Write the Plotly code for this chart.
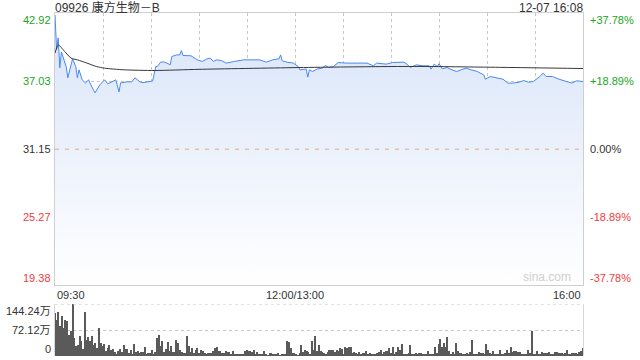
import plotly.graph_objects as go

# ---------------- data ----------------
title_text = "09926 康方生物－B"
stamp_text = "12-07 16:08"
prev_close = 31.15
price_ticks = [19.38, 25.27, 31.15, 37.03, 42.92]
pct_labels = ["-37.78%", "-18.89%", "0.00%", "+18.89%", "+37.78%"]
time_labels = ["09:30", "12:00/13:00", "16:00"]
time_label_pos = [0, 150, 330]          # minute index (HK session, lunch break removed)
grid_minutes = [30, 60, 90, 120, 150, 180, 210, 240, 270, 300]
vol_ticks = [72.12, 144.24]
vol_labels = ["0", "72.12万", "144.24万"]

price_minutes = [0, 1, 2, 3, 4, 7, 8, 10, 11, 13, 14, 15, 17, 19, 21, 23, 25, 28, 31, 33,
                 36, 38, 40, 41, 45, 48, 50, 53, 55, 58, 61, 63, 64, 66, 68, 70, 72, 73, 76, 78,
                 79, 80, 85, 89, 92, 95, 97, 99, 101, 104, 107, 112, 116, 118, 122, 128, 132, 136, 140, 141,
                 142, 145, 149, 152, 153, 157, 158, 159, 161, 164, 167, 169, 171, 174, 177, 182, 189, 195, 199, 201,
                 207, 211, 218, 220, 222, 226, 230, 234, 235, 237, 239, 240, 242, 245, 247, 251, 255, 257, 260, 264,
                 268, 269, 272, 276, 280, 283, 286, 290, 293, 296, 299, 303, 305, 307, 311, 315, 320, 323, 326, 329,
                 330]
price_values = [42.76, 39.74, 40.77, 38.18, 39.56, 38.27, 37.32, 38.27, 38.96, 38.27, 37.32, 38.01, 37.14, 36.88, 37.14, 36.54, 36.02, 36.71, 37.14, 36.80,
                36.97, 37.14, 36.10, 36.88, 36.97, 36.97, 37.32, 36.97, 36.90, 36.95, 37.04, 38.29, 38.30, 38.67, 38.70, 38.59, 38.44, 39.16, 39.30, 39.30,
                39.67, 39.25, 39.22, 38.87, 38.73, 38.96, 39.02, 38.73, 38.87, 38.81, 38.59, 38.73, 38.81, 38.87, 38.87, 38.87, 38.67, 38.87, 38.96, 39.30,
                38.79, 38.67, 38.59, 38.29, 38.01, 38.07, 37.38, 38.01, 37.86, 38.09, 38.15, 38.38, 38.21, 38.29, 38.64, 38.59, 38.59, 38.59, 38.36, 38.59,
                38.50, 38.64, 38.67, 38.50, 38.21, 38.44, 38.35, 38.35, 38.07, 38.50, 38.29, 38.53, 38.09, 38.21, 38.07, 37.86, 38.07, 38.15, 38.01, 37.86,
                37.57, 37.20, 37.43, 37.29, 37.20, 36.86, 36.86, 36.94, 37.08, 36.94, 37.00, 37.43, 37.72, 37.43, 37.43, 37.20, 37.00, 36.86, 37.06, 37.00,
                37.00]

avg_minutes = [0, 2, 6, 10, 14, 20, 26, 31, 43, 62, 90, 150, 205, 230, 280, 330]
avg_values = [39.45, 40.17, 39.60, 39.02, 38.87, 38.59, 38.29, 38.15, 38.01, 37.95, 38.05, 38.20, 38.29, 38.30, 38.22, 38.12]

volumes = [118.8, 100.7, 120.7, 82.7, 110.2, 77.0, 100.7, 97.9, 58.0, 69.4, 144.24, 49.4, 28.5, 31.4, 56.0, 42.8, 20.0, 120.7, 44.7, 53.2,
           42.8, 56.0, 30.4, 36.1, 21.9, 77.0, 36.1, 28.5, 33.3, 15.2, 21.9, 30.4, 18.0, 20.0, 10.5, 6.7, 13.3, 20.0, 10.5, 30.4,
           20.0, 20.0, 8.6, 18.0, 6.7, 33.3, 10.5, 15.2, 8.6, 12.4, 10.5, 24.7, 6.7, 8.6, 8.6, 17.1, 6.7, 10.5, 51.3, 58.0,
           28.5, 40.9, 10.5, 20.0, 39.9, 15.2, 28.5, 10.5, 12.4, 44.7, 36.1, 18.0, 12.4, 8.6, 8.6, 54.2, 28.5, 12.4,
           22.8, 9.5, 18.0, 20.9, 9.5, 18.0, 14.3, 8.6, 4.8, 9.5, 8.6, 9.5, 14.3, 20.9, 25.7, 13.3, 13.3, 9.5, 8.6, 13.3,
           11.4, 11.4, 3.8, 15.2, 3.8, 3.8, 2.9, 6.7, 6.7, 6.7, 13.3, 18.0, 13.3, 13.3, 11.4, 18.0, 6.7, 11.4, 3.8, 6.7,
           6.7, 14.3, 4.8, 1.9, 9.5, 9.5, 4.8, 3.8, 3.8, 8.6, 1.9, 3.8, 6.7, 3.8, 41.8, 38.0, 20.9, 9.5, 9.5, 3.8,
           1.9, 8.6, 30.4, 11.4, 18.0, 13.3, 11.4, 3.8, 41.8, 16.2, 56.0, 13.3, 30.4, 13.3,
           11.4, 9.5, 6.7, 11.4, 18.0, 16.2, 18.0, 11.4, 18.0, 13.3, 20.9, 19.0, 6.7, 25.7, 20.9, 25.7, 25.7, 8.6, 11.4, 8.6,
           6.7, 11.4, 6.7, 9.5, 9.5, 13.3, 4.8, 8.6, 6.7, 6.7, 3.8, 8.6, 11.4, 18.0, 4.8, 11.4, 14.3, 14.3, 22.8, 8.6,
           25.7, 4.8, 11.4, 25.7, 18.0, 32.3, 4.8, 3.8, 3.8, 8.6, 30.4, 6.7, 6.7, 8.6, 4.8, 8.6, 9.5, 3.8, 3.8, 6.7,
           14.3, 3.8, 6.7, 3.8, 23.8, 9.5, 32.3, 46.6, 23.8, 35.2, 23.8, 52.3, 14.3, 3.8, 11.4, 3.8, 35.2,
           13.3, 9.5, 8.6, 3.8, 3.8, 8.6, 6.7, 11.4, 44.7, 3.8, 3.8, 6.7, 11.4, 9.5, 8.6, 4.8, 32.3, 18.0, 9.5, 6.7,
           13.3, 4.8, 6.7, 4.8, 18.0, 3.8, 6.7, 9.5, 16.2, 8.6, 25.7, 11.4, 13.3, 13.3, 11.4, 11.4, 6.7, 3.8, 6.7, 6.7,
           18.0, 9.5, 70.3, 6.7, 3.8, 14.3, 6.7, 3.8, 11.4, 8.6, 9.5, 9.5, 11.4, 6.7, 3.8, 11.4, 11.4, 8.6, 9.5, 9.5,
           6.7, 8.6, 18.0, 3.8, 3.8, 8.6, 9.5, 9.5, 6.7, 11.4, 13.3, 22.8]

# ---------------- styling ----------------
FONT = "Liberation Sans, Arial, Noto Sans CJK SC, sans-serif"
GREEN = "#1aa51a"
RED = "#f03c3c"
DARK = "#333333"
GRID = "#c8c8c8"
N = len(volumes)
vol_minutes = [i * 330 / (N - 1) for i in range(N)]

fig = go.Figure()
fig.add_trace(go.Scatter(
    x=price_minutes, y=price_values, mode="lines",
    line=dict(color="#4a88ee", width=1),
    fill="tozeroy",
    fillgradient=dict(type="vertical",
                      colorscale=[[0, "rgba(255,255,255,1)"], [1, "rgb(216,228,249)"]],
                      start=price_ticks[0], stop=price_ticks[-1]),
    xaxis="x", yaxis="y", hoverinfo="skip"))
fig.add_trace(go.Scatter(
    x=avg_minutes, y=avg_values, mode="lines",
    line=dict(color="#383838", width=1, shape="spline", smoothing=0.6),
    xaxis="x", yaxis="y", hoverinfo="skip"))
fig.add_trace(go.Bar(
    x=vol_minutes, y=volumes, width=0.75,
    marker=dict(color="#5a5a5a", line=dict(width=0)),
    xaxis="x2", yaxis="y2", hoverinfo="skip"))

PRICE_BOTTOM = 0.206
fig.update_layout(
    width=640, height=360,
    margin=dict(l=55, r=57, t=13, b=4),
    paper_bgcolor="white", plot_bgcolor="rgba(0,0,0,0)",
    showlegend=False,
    font=dict(family=FONT, size=11, color=DARK),
    xaxis=dict(domain=[0, 1], range=[0, 330], anchor="y",
               tickvals=grid_minutes, showticklabels=False, ticks="",
               showgrid=True, gridcolor=GRID, griddash="dot", gridwidth=1,
               showline=True, linecolor="#cfcfcf", mirror=True, zeroline=False),
    yaxis=dict(domain=[PRICE_BOTTOM, 1], range=[price_ticks[0], price_ticks[-1]], anchor="x",
               tickvals=[price_ticks[1], price_ticks[3]], showticklabels=False, ticks="",
               showgrid=True, gridcolor=GRID, griddash="dot", gridwidth=1,
               showline=True, linecolor="#cfcfcf", mirror=True, zeroline=False),
    xaxis2=dict(domain=[0, 1], range=[0, 330], anchor="y2", matches="x",
                showticklabels=False, ticks="", showgrid=False, showline=False, zeroline=False),
    yaxis2=dict(domain=[0, 0.1516], range=[0, vol_ticks[-1]], anchor="x2",
                tickvals=[vol_ticks[0]], showticklabels=False, ticks="",
                showgrid=True, gridcolor=GRID, griddash="dot", gridwidth=1,
                showline=True, linecolor="#d8d8d8", mirror=True, zeroline=False),
    bargap=0,
)

# previous close dashed line and volume top dotted line
fig.add_shape(type="line", xref="x domain", yref="y", x0=0, x1=1, y0=prev_close, y1=prev_close,
              line=dict(color="#e3a385", width=1, dash="4px,6px"))
fig.add_shape(type="line", xref="x2 domain", yref="y2", x0=0, x1=1, y0=vol_ticks[-1], y1=vol_ticks[-1],
              line=dict(color=GRID, width=1, dash="dot"))

def col(i):
    return RED if i < 2 else (DARK if i == 2 else GREEN)

for i, (v, p) in enumerate(zip(price_ticks, pct_labels)):
    shift = 7 if i == 0 else (-7 if i == len(price_ticks) - 1 else 0)
    fig.add_annotation(xref="x domain", yref="y", x=0, y=v, text=f"{v:.2f}",
                       xanchor="right", yanchor="middle", xshift=-2, yshift=shift,
                       showarrow=False, font=dict(color=col(i), size=11))
    fig.add_annotation(xref="x domain", yref="y", x=1, y=v, text=p,
                       xanchor="left", yanchor="middle", xshift=5, yshift=shift,
                       showarrow=False, font=dict(color=col(i), size=11))

anchors = ["left", "center", "right"]
for t, pos, a in zip(time_labels, time_label_pos, anchors):
    fig.add_annotation(xref="x", yref="y domain", x=pos, y=0, text=t,
                       xanchor=a, yanchor="top", yshift=-2, showarrow=False,
                       font=dict(color=DARK, size=11))

for i, (v, lab) in enumerate(zip([0] + vol_ticks, vol_labels)):
    shift = 7 if i == 0 else (-7 if i == 2 else 0)
    fig.add_annotation(xref="x2 domain", yref="y2", x=0, y=v, text=lab,
                       xanchor="right", yanchor="middle", xshift=-2, yshift=shift,
                       showarrow=False, font=dict(color=DARK, size=11))

fig.add_annotation(xref="x domain", yref="paper", x=0, y=1, text=title_text,
                   xanchor="left", yanchor="bottom", xshift=-1, yshift=-3, borderpad=0,
                   showarrow=False, font=dict(color=DARK, size=12))
fig.add_annotation(xref="x domain", yref="paper", x=1, y=1, text=stamp_text,
                   xanchor="right", yanchor="bottom", xshift=1, yshift=-3, borderpad=0,
                   showarrow=False, font=dict(color=DARK, size=12))
fig.add_annotation(xref="x domain", yref="y domain", x=0.981, y=0, text="sina.com",
                   xanchor="right", yanchor="bottom", yshift=-1, showarrow=False,
                   font=dict(color="#cfcfcf", size=12))

fig.write_html("out.html")
